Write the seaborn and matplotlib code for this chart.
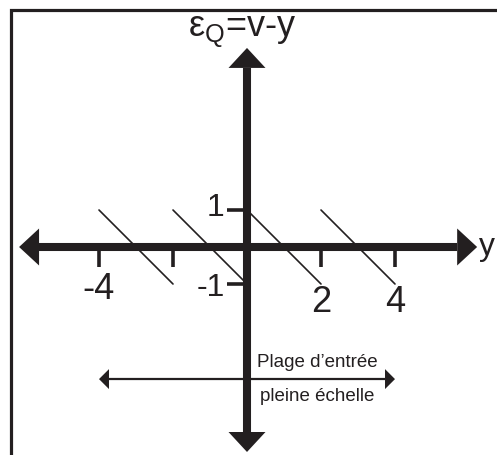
import matplotlib
matplotlib.use("Agg")
import matplotlib.pyplot as plt
from matplotlib.patches import Rectangle
import numpy as np
import pandas as pd
import seaborn as sns

# Quantisation error: one ramp per quantisation step, from +1 down to -1
step_start = [-4, -2, 0, 2]
step_end = [-2, 0, 2, 4]
err_start = [1, 1, 1, 1]
err_end = [-1, -1, -1, -1]

x_ticks = [-4, -2, 2, 4]
x_tick_labels = ["-4", "", "2", "4"]
y_ticks = [1, -1]
y_tick_labels = ["1", "-1"]

full_scale = [-4, 4]

INK = "#231f20"

sns.set_theme(style="white")
plt.rcParams["font.family"] = ["Liberation Sans", "DejaVu Sans"]
plt.rcParams["mathtext.fontset"] = "custom"
plt.rcParams["mathtext.rm"] = "Liberation Sans"
plt.rcParams["mathtext.it"] = "Liberation Sans:italic"

W, H, DPI = 497, 455, 100
fig = plt.figure(figsize=(W / DPI, H / DPI), dpi=DPI)
ax = fig.add_axes([0, 0, 1, 1])

# origin at pixel (247, 247), 37 px per unit
unit = 37.0
ox, oy = 247.0, 247.0
ax.set_xlim(-ox / unit, (W - ox) / unit)
ax.set_ylim(-(H - oy) / unit, oy / unit)
ax.set_axis_off()

# outer frame (top and left edges visible)
fig.patches.append(Rectangle((11 / W, -0.1), 1.2, (H - 9.5) / H + 0.1,
                             transform=fig.transFigure, fill=False,
                             edgecolor=INK, linewidth=2.3))

# error ramps
rows = []
for i, (a, b, e0, e1) in enumerate(zip(step_start, step_end, err_start, err_end)):
    rows.append({"seg": i, "y": a, "eps": e0})
    rows.append({"seg": i, "y": b, "eps": e1})
df = pd.DataFrame(rows)
sns.lineplot(data=df, x="y", y="eps", units="seg", estimator=None,
             color=INK, linewidth=1.2, ax=ax, legend=False, sort=False)


def arrow_head(ax, tip, direction, length, half_width, color):
    tx, ty = tip
    dx, dy = direction
    bx, by = tx - dx * length, ty - dy * length
    px, py = -dy, dx
    xs = [tx, bx + px * half_width, bx - px * half_width]
    ys = [ty, by + py * half_width, by - py * half_width]
    ax.fill(xs, ys, color=color, lw=0, zorder=5)
    return bx, by


# main axes with double arrows
x_left, x_right = -6.16, 6.22
y_bottom, y_top = -5.54, 5.38
hl, hw = 0.54, 0.5
lx, _ = arrow_head(ax, (x_left, 0), (-1, 0), hl, hw, INK)
rx, _ = arrow_head(ax, (x_right, 0), (1, 0), hl, hw, INK)
_, ty = arrow_head(ax, (0, y_top), (0, 1), hl, hw, INK)
_, by = arrow_head(ax, (0, y_bottom), (0, -1), hl, hw, INK)
ax.plot([lx, rx], [0, 0], color=INK, lw=5.8, solid_capstyle="butt", zorder=4)
ax.plot([0, 0], [by, ty], color=INK, lw=5.8, solid_capstyle="butt", zorder=4)

# ticks
ax.vlines(x_ticks, -0.55, 0, color=INK, lw=2.6, zorder=3)
ax.hlines(y_ticks, -0.55, 0, color=INK, lw=2.6, zorder=3)

x_label_y = {"-4": -1.16, "2": -1.49, "4": -1.49}
for xv, lab in zip(x_ticks, x_tick_labels):
    if lab:
        ax.text(xv, x_label_y[lab], lab, ha="center", va="center",
                fontsize=26, color=INK)
for yv, lab in zip(y_ticks, y_tick_labels):
    ax.text(-0.6, yv + (0.05 if yv > 0 else -0.1), lab, ha="right",
            va="center", fontsize=23, color=INK)

# axis names
ax.text(-0.14, 5.8, "ε$_{\\mathrm{Q}}$=v-y", ha="center", va="center",
        fontsize=26, color=INK)
ax.text(6.28, 0.0, "y", ha="left", va="center", fontsize=23, color=INK)

# full-scale input range
fy = -3.57
sl, sw = 0.27, 0.27
l2, _ = arrow_head(ax, (full_scale[0], fy), (-1, 0), sl, sw, INK)
r2, _ = arrow_head(ax, (full_scale[1], fy), (1, 0), sl, sw, INK)
ax.plot([l2, r2], [fy, fy], color=INK, lw=1.6, solid_capstyle="butt", zorder=4)
ax.text(1.9, -3.13, "Plage d\u2019entrée", ha="center", va="center",
        fontsize=13.5, color=INK)
ax.text(1.9, -4.03, "pleine échelle", ha="center", va="center",
        fontsize=13.5, color=INK)

fig.savefig("out.png", dpi=DPI)
